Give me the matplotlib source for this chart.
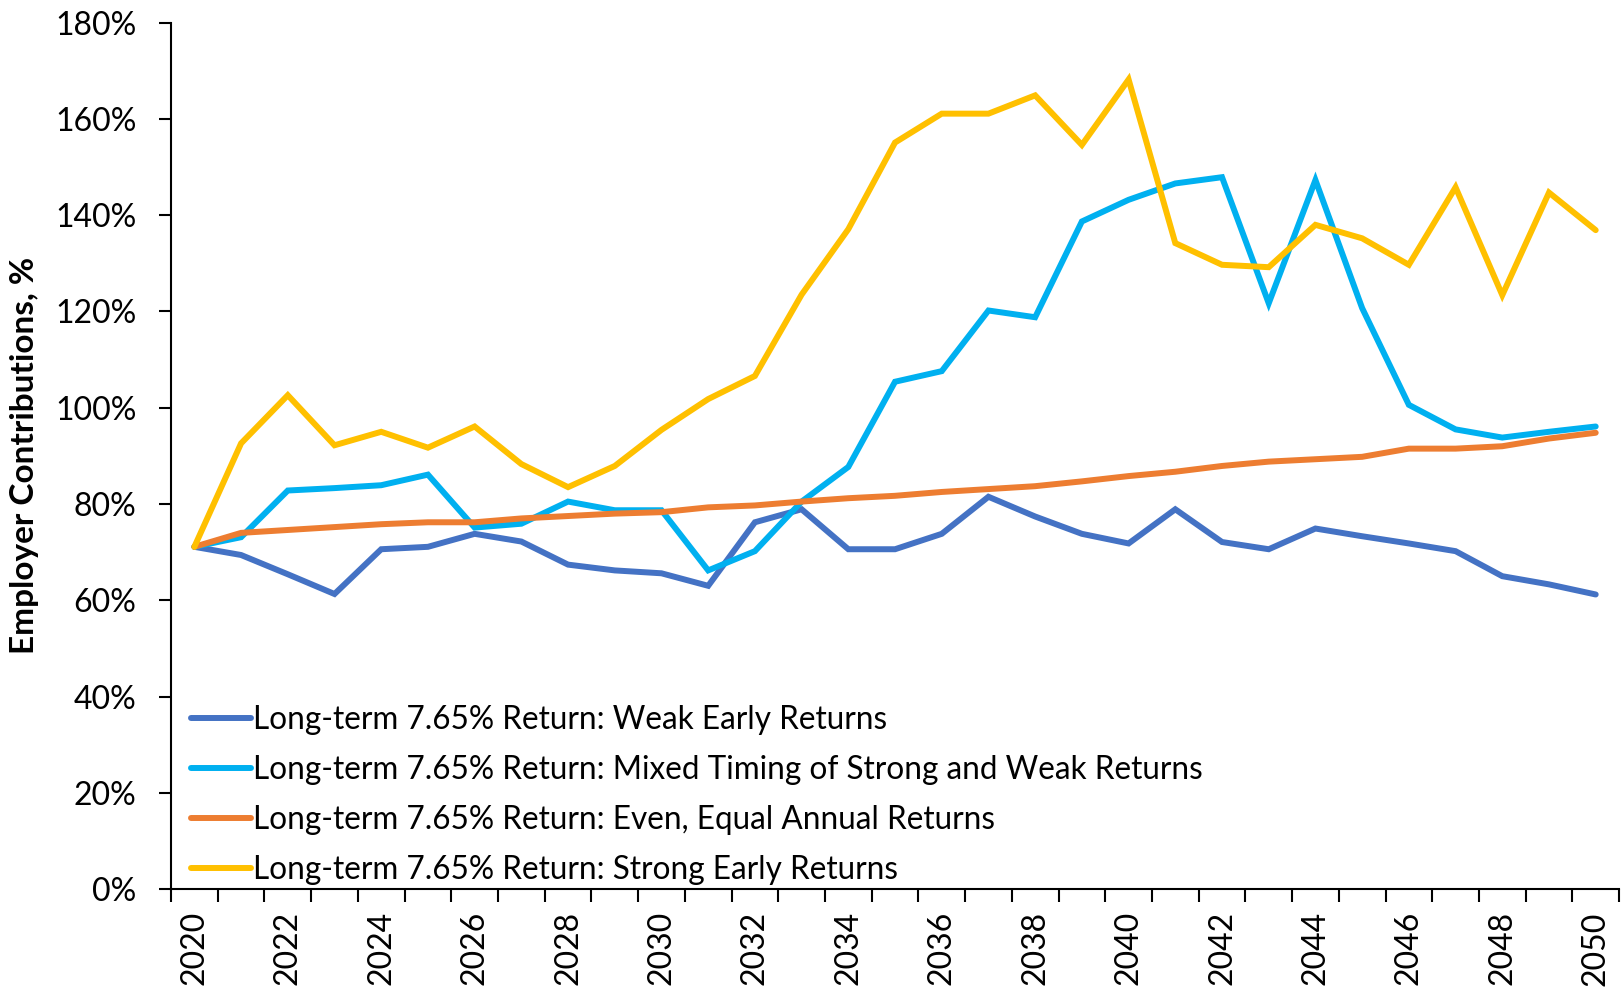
import numpy as np
import matplotlib
matplotlib.use('Agg')
import matplotlib.pyplot as plt
from matplotlib.ticker import FixedLocator, PercentFormatter

plt.rcParams['font.family'] = ['Lato', 'DejaVu Sans']

years = list(range(2020, 2051))

# employer contributions, % of payroll
weak_early = [71.1, 69.4, 65.4, 61.3, 70.6, 71.1, 73.8, 72.2, 67.4, 66.2,
              65.6, 63.0, 76.2, 78.9, 70.6, 70.6, 73.8, 81.5, 77.4, 73.8,
              71.8, 78.9, 72.1, 70.6, 74.9, 73.3, 71.8, 70.2, 65.0, 63.3, 61.2]
mixed_timing = [71.1, 73.1, 82.8, 83.3, 83.9, 86.1, 75.1, 75.9, 80.5, 78.7,
                78.7, 66.2, 70.2, 80.5, 87.7, 105.4, 107.6, 120.2, 118.8, 138.7,
                143.2, 146.6, 147.9, 121.7, 147.3, 120.7, 100.6, 95.5, 93.8, 95.0, 96.1]
even_equal = [71.1, 74.0, 74.6, 75.2, 75.8, 76.2, 76.2, 77.0, 77.5, 78.0,
              78.3, 79.3, 79.7, 80.5, 81.2, 81.7, 82.5, 83.1, 83.7, 84.7,
              85.8, 86.7, 87.9, 88.8, 89.3, 89.8, 91.5, 91.5, 92.0, 93.6, 94.8]
strong_early = [71.1, 92.6, 102.6, 92.2, 95.0, 91.7, 96.1, 88.3, 83.5, 87.9,
                95.4, 101.8, 106.6, 123.5, 137.1, 155.1, 161.1, 161.1, 164.9, 154.6,
                168.2, 134.2, 129.7, 129.2, 138.0, 135.2, 129.7, 145.8, 123.4, 144.7, 136.9]

series = [
    ('Long-term 7.65% Return: Weak Early Returns', weak_early, '#4472C4'),
    ('Long-term 7.65% Return: Mixed Timing of Strong and Weak Returns', mixed_timing, '#00B0F0'),
    ('Long-term 7.65% Return: Even, Equal Annual Returns', even_equal, '#ED7D31'),
    ('Long-term 7.65% Return: Strong Early Returns', strong_early, '#FFC000'),
]

fig = plt.figure(figsize=(16.21, 9.91), dpi=100)
ax = fig.add_axes([0.1055, 0.1029, 0.8933, 0.8742])

x = np.arange(len(years))
for label, vals, color in series:
    ax.plot(x, vals, color=color, lw=4.3, label=label, solid_capstyle='round',
            solid_joinstyle='miter')

ax.set_xlim(-0.5, len(years) - 0.5)
ax.set_ylim(0, 180)
ax.set_yticks(np.arange(0, 181, 20))
ax.yaxis.set_major_formatter(PercentFormatter(decimals=0))

# category axis: labels every other year, tick marks between categories
ax.set_xticks(x[::2])
ax.set_xticklabels([str(y) for y in years[::2]], rotation=90)
ax.xaxis.set_minor_locator(FixedLocator(np.arange(-0.5, len(years), 1)))
ax.tick_params(axis='x', which='major', length=0, pad=16, labelsize=23)
ax.tick_params(axis='x', which='minor', length=9, width=1.5, direction='out')
ax.tick_params(axis='y', length=9, width=1.5, labelsize=23, pad=16)

for s in ['top', 'right']:
    ax.spines[s].set_visible(False)
for s in ['left', 'bottom']:
    ax.spines[s].set_linewidth(1.5)

ax.set_ylabel('Employer Contributions, %', fontsize=24, fontweight='bold')
ax.yaxis.set_label_coords(-0.091, 0.5)

ax.legend(loc='lower left', bbox_to_anchor=(0.008, -0.005), frameon=False, fontsize=22.7,
          handlelength=1.9, handletextpad=0.05, labelspacing=0.63, borderaxespad=0,
          borderpad=0.27)

fig.savefig('out.png', dpi=100)
